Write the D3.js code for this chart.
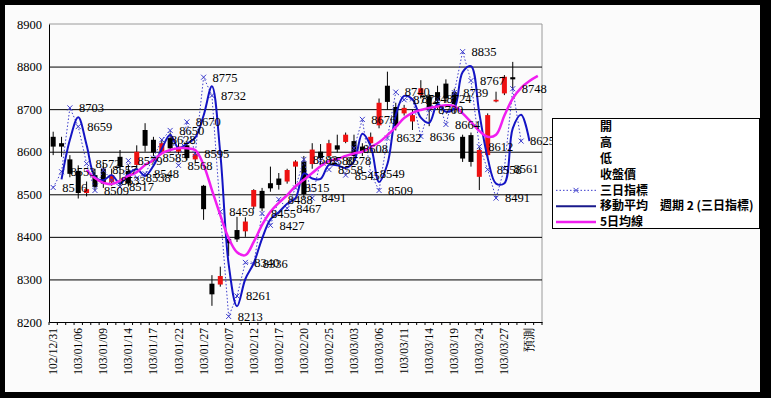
<!DOCTYPE html>
<html><head><meta charset="utf-8">
<script src="https://cdn.jsdelivr.net/npm/d3@7"></script>
<style>html,body{margin:0;padding:0;background:#000;} svg{display:block}</style>
</head><body>
<svg id="chart" width="771" height="398"></svg>
<script>
const categories = ["102/12/31","103/01/02","103/01/03","103/01/06","103/01/07","103/01/08","103/01/09","103/01/10","103/01/13","103/01/14",
"103/01/15","103/01/16","103/01/17","103/01/20","103/01/21","103/01/22","103/01/23","103/01/24","103/01/27","103/02/05",
"103/02/06","103/02/07","103/02/10","103/02/11","103/02/12","103/02/13","103/02/14","103/02/17","103/02/18","103/02/19",
"103/02/20","103/02/21","103/02/24","103/02/25","103/02/26","103/02/27","103/03/03","103/03/04","103/03/05","103/03/06",
"103/03/07","103/03/10","103/03/11","103/03/12","103/03/13","103/03/14","103/03/17","103/03/18","103/03/19","103/03/20",
"103/03/21","103/03/24","103/03/25","103/03/26","103/03/27","103/03/28","103/03/31","預測",""];
const labelEvery = 3;
const yTicks = [8200,8300,8400,8500,8600,8700,8800,8900];

const openVals  = [8635,8620,8582,8555,8503,8545,8560,8528,8588,8555,8569,8651,8628,8600,8632,8600,8615,8582,8520,8290,8288,8395,8416,8413,8471,8508,8526,8537,8530,8565,8577,8571,8600,8590,8615,8623,8625,8612,8620,8662,8755,8705,8690,8671,8733,8730,8740,8760,8740,8635,8639,8541,8592,8718,8737,8775,null,null,null];
const highVals  = [8647,8635,8592,8568,8530,8560,8575,8560,8604,8570,8615,8667,8635,8630,8645,8620,8625,8600,8522,8310,8330,8400,8447,8446,8512,8515,8565,8550,8560,8580,8590,8620,8618,8628,8640,8645,8640,8620,8645,8725,8788,8715,8710,8698,8768,8735,8755,8770,8748,8640,8645,8610,8690,8741,8780,8811,null,null,null];
const lowVals   = [8592,8588,8540,8490,8495,8510,8515,8520,8517,8518,8560,8600,8590,8595,8600,8595,8580,8575,8440,8238,8283,8355,8388,8400,8465,8460,8506,8511,8525,8523,8490,8560,8565,8585,8598,8620,8580,8590,8618,8655,8698,8650,8685,8651,8725,8660,8700,8715,8690,8576,8565,8510,8585,8716,8733,8745,null,null,null];
const closeVals = [8612,8612,8548,8503,8512,8517,8525,8545,8565,8525,8600,8614,8598,8620,8608,8612,8585,8595,8465,8265,8308,8385,8394,8436,8510,8467,8514,8522,8557,8577,8500,8605,8585,8620,8605,8640,8590,8600,8635,8715,8717,8660,8703,8686,8749,8700,8720,8725,8712,8584,8576,8604,8686,8722,8776,8770,null,null,null];

const threeDay = [8516,8553,8703,8659,8572,8509,8557,8533,8517,8579,8538,8548,8585,8628,8650,8568,8670,8595,8775,8732,8459,8213,8261,8340,8336,8455,8427,8488,8467,8515,8582,8491,8580,8558,8578,8545,8608,8676,8549,8509,8632,8740,8722,8724,8636,8700,8724,8664,8739,8835,8767,8612,8558,8491,8561,8748,8625,null,null];
const movingAvg2 = [null,8535,8628,8681,8616,8541,8533,8545,8525,8548,8559,8543,8567,8607,8639,8609,8619,8633,8685,8754,8596,8336,8237,8301,8338,8396,8441,8458,8478,8491,8549,8537,8536,8569,8568,8562,8577,8642,8613,8529,8571,8686,8731,8723,8680,8668,8712,8694,8702,8787,8801,8690,8585,8525,8526,8655,8687,8625,null];
const ma5 = [null,null,null,null,8557,8538,8527,8524,8532,8543,8552,8569,8580,8596,8604,8608,8608,8604,8569,8510,8451,8397,8364,8357,8388,8428,8459,8480,8498,8519,8534,8550,8566,8578,8583,8590,8596,8600,8611,8622,8639,8658,8679,8691,8698,8703,8706,8709,8707,8690,8670,8649,8635,8640,8685,8725,8750,8766,8778];

const legendItems = ["開","高","低","收盤價","三日指標","移動平均　週期 2 (三日指標)","5日均線"];

const C_DOT = "#3b3bcc", C_BLUE = "#1414c4", C_MAG = "#f01ef0", C_UP = "#ee1111";

const svg = d3.select("#chart");
svg.append("rect").attr("width",771).attr("height",398).attr("fill","#000");
svg.append("rect").attr("x",5).attr("y",5).attr("width",755).attr("height",387).attr("fill","#fbfbfb");

const plot = {l:49, r:542, t:24, b:322};
const x = d3.scaleBand().domain(d3.range(categories.length)).range([plot.l, plot.r]).padding(0);
const cx = i => x(i) + x.bandwidth()/2;
const y = d3.scaleLinear().domain([8200, 8900]).range([plot.b, plot.t]);

// plot border (top/right gray)
svg.append("path").attr("d", `M${plot.l},${plot.t}H${plot.r}V${plot.b}`).attr("fill","none").attr("stroke","#9a9a9a");

// gridlines
svg.append("g").attr("transform",`translate(${plot.l},0)`)
  .call(d3.axisLeft(y).tickValues(yTicks.filter(v=>v>8200 && v<8900)).tickSize(-(plot.r-plot.l)).tickFormat(""))
  .call(g=>g.select(".domain").remove())
  .selectAll("line").attr("stroke","#000").attr("stroke-width",1);

// y axis
const ya = svg.append("g").attr("transform",`translate(${plot.l},0)`)
  .call(d3.axisLeft(y).tickValues(yTicks).tickSize(0).tickSizeOuter(0).tickPadding(7).tickFormat(d3.format("d")));
ya.select(".domain").attr("stroke","#000");
ya.selectAll("text").attr("font-family","Liberation Serif").attr("font-size",12.5).attr("fill","#000");

// x axis
const xa = svg.append("g").attr("transform",`translate(0,${plot.b})`)
  .call(d3.axisBottom(x).tickValues(d3.range(0, categories.length, labelEvery)).tickFormat(i=>categories[i]).tickSize(0).tickSizeOuter(0));
xa.select(".domain").attr("stroke","#000");
xa.selectAll("text").attr("transform","rotate(-90)").attr("text-anchor","end")
  .attr("x",-6).attr("y",0).attr("dy","0.35em")
  .attr("font-family","Liberation Serif").attr("font-size",11.5).attr("fill","#000");
// category boundary ticks
const bounds = d3.range(categories.length).map(i=>x(i)).concat([x.range()[1]]);
svg.append("g").selectAll("line").data(bounds).join("line")
  .attr("x1",d=>d).attr("x2",d=>d).attr("y1",plot.b).attr("y2",plot.b+3).attr("stroke","#000");

// candles
const candleIdx = d3.range(categories.length).filter(i=>openVals[i]!=null);
const cg = svg.append("g");
cg.selectAll("line").data(candleIdx).join("line")
  .attr("x1",cx).attr("x2",cx).attr("y1",i=>y(highVals[i])).attr("y2",i=>y(lowVals[i]))
  .attr("stroke","#000").attr("stroke-width",1);
const bw = 5;
cg.selectAll("rect").data(candleIdx).join("rect")
  .attr("x",i=>cx(i)-bw/2).attr("width",bw)
  .attr("y",i=>y(Math.max(openVals[i],closeVals[i])))
  .attr("height",i=>Math.max(1.5, Math.abs(y(openVals[i])-y(closeVals[i]))))
  .attr("fill",i=>closeVals[i]>=openVals[i]?C_UP:"#000");

// three-day indicator dotted line + x markers
const tIdx = d3.range(categories.length).filter(i=>threeDay[i]!=null);
svg.append("path").datum(tIdx)
  .attr("d", d3.line().x(cx).y(i=>y(threeDay[i])))
  .attr("fill","none").attr("stroke",C_DOT).attr("stroke-width",1).attr("stroke-dasharray","1.5,2");
const xm = "M-2.5,-2.5L2.5,2.5M-2.5,2.5L2.5,-2.5";
svg.append("g").selectAll("path").data(tIdx).join("path")
  .attr("transform",i=>`translate(${cx(i)},${y(threeDay[i])})`).attr("d",xm)
  .attr("stroke",C_DOT).attr("stroke-width",1).attr("fill","none");

// moving average line
const mIdx = d3.range(categories.length).filter(i=>movingAvg2[i]!=null);
svg.append("path").datum(mIdx)
  .attr("d", d3.line().x(cx).y(i=>y(movingAvg2[i])).curve(d3.curveCatmullRom.alpha(0.5)))
  .attr("fill","none").attr("stroke",C_BLUE).attr("stroke-width",2);

// 5-day MA
const fIdx = d3.range(categories.length).filter(i=>ma5[i]!=null);
svg.append("path").datum(fIdx)
  .attr("d", d3.line().x(cx).y(i=>y(ma5[i])).curve(d3.curveCatmullRom.alpha(0.5)))
  .attr("fill","none").attr("stroke",C_MAG).attr("stroke-width",2.5);

// data labels
svg.append("g").selectAll("text").data(tIdx).join("text")
  .attr("x",i=>cx(i)+9).attr("y",i=>y(threeDay[i])).attr("dy","0.35em")
  .attr("font-family","Liberation Serif").attr("font-size",12.5).attr("fill","#000")
  .text(i=>threeDay[i]);

// legend
const lg = svg.append("g");
lg.append("rect").attr("x",552.5).attr("y",118.5).attr("width",207).attr("height",110)
  .attr("fill","#fff").attr("stroke","#000");
const rowY = d3.scalePoint().domain(d3.range(legendItems.length)).range([127,222]);
lg.selectAll("text").data(legendItems).join("text")
  .attr("x",600).attr("y",(d,i)=>rowY(i)).attr("dy","0.35em")
  .attr("font-family","Noto Sans CJK TC").attr("font-size",12).attr("font-weight","bold").attr("fill","#000")
  .text(d=>d);
lg.append("line").attr("x1",556).attr("x2",596).attr("y1",rowY(4)).attr("y2",rowY(4))
  .attr("stroke",C_DOT).attr("stroke-dasharray","1.5,2");
lg.append("path").attr("transform",`translate(576,${rowY(4)})`).attr("d",xm).attr("stroke",C_DOT).attr("fill","none");
lg.append("line").attr("x1",556).attr("x2",596).attr("y1",rowY(5)).attr("y2",rowY(5))
  .attr("stroke","#1a1a8c").attr("stroke-width",2);
lg.append("line").attr("x1",556).attr("x2",596).attr("y1",rowY(6)).attr("y2",rowY(6))
  .attr("stroke",C_MAG).attr("stroke-width",2.5);
</script>
</body></html>
